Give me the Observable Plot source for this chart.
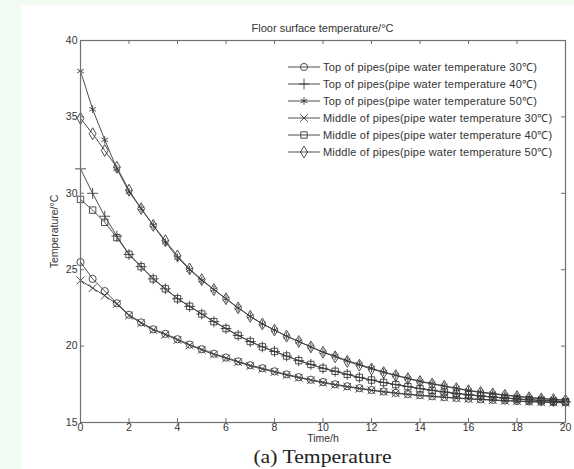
<!DOCTYPE html>
<html>
<head>
<meta charset="utf-8">
<script src="https://cdn.jsdelivr.net/npm/d3@7"></script>
<script src="https://cdn.jsdelivr.net/npm/@observablehq/plot@0.6"></script>
<style>
  html, body { margin: 0; padding: 0; }
  body { width: 574px; height: 469px; background: #f2fcf2; position: relative; overflow: hidden; font-family: "Liberation Sans", Arial, sans-serif; }
  #panel { position: absolute; left: 21px; top: 5px; width: 553px; height: 464px; background: #fff; }
  #chart { position: absolute; left: 0; top: 0; }
  #title { position: absolute; left: 59px; width: 485px; top: 17px; text-align: center; font-size: 11px; color: #333; }
  #caption { position: absolute; left: 59px; width: 485px; top: 441px; text-align: center; font-family: "Liberation Serif", "Times New Roman", serif; font-size: 19px; color: #222; transform: scaleX(1.14); }
  #legend { position: absolute; left: 262px; top: 52px; }
</style>
</head>
<body>
<div id="panel">
  <div id="chart"></div>
  <div id="title">Floor surface temperature/°C</div>
  <svg id="legend" width="290" height="110"></svg>
  <div id="caption">(a) Temperature</div>
</div>
<script>
// ---- data ----
const times = [0,0.5,1,1.5,2,2.5,3,3.5,4,4.5,5,5.5,6,6.5,7,7.5,8,8.5,9,9.5,10,10.5,11,11.5,12,12.5,13,13.5,14,14.5,15,15.5,16,16.5,17,17.5,18,18.5,19,19.5,20];

const seriesNames = [
  "Top of pipes(pipe water temperature 30℃)",
  "Top of pipes(pipe water temperature 40℃)",
  "Top of pipes(pipe water temperature 50℃)",
  "Middle of pipes(pipe water temperature 30℃)",
  "Middle of pipes(pipe water temperature 40℃)",
  "Middle of pipes(pipe water temperature 50℃)"
];
const seriesSymbols = ["circle", "plus", "asterisk", "times", "square", "diamond"];

const top30 = [25.5,24.4,23.6,22.8,22.05,21.55,21.1,20.8,20.45,20.1,19.8,19.5,19.25,19.0,18.75,18.55,18.35,18.15,17.97,17.8,17.65,17.5,17.37,17.25,17.13,17.03,16.94,16.86,16.79,16.72,16.66,16.61,16.56,16.52,16.48,16.44,16.41,16.38,16.35,16.33,16.31];
const top40 = [31.6,30.0,28.5,27.2,26.0,25.2,24.4,23.75,23.1,22.6,22.1,21.6,21.15,20.7,20.3,19.95,19.65,19.35,19.05,18.8,18.55,18.35,18.15,17.95,17.78,17.62,17.48,17.35,17.22,17.1,17.0,16.9,16.82,16.74,16.67,16.6,16.54,16.49,16.44,16.4,16.36];
const top50 = [38.0,35.5,33.5,31.6,30.1,29.0,27.9,26.8,25.8,25.0,24.3,23.7,23.1,22.5,21.95,21.45,21.05,20.65,20.3,19.95,19.6,19.35,19.05,18.8,18.55,18.3,18.1,17.9,17.7,17.55,17.4,17.25,17.1,17.0,16.9,16.8,16.72,16.65,16.58,16.52,16.47];
const mid30 = [24.3,23.8,23.3,22.75,22.0,21.5,21.05,20.75,20.4,20.05,19.75,19.45,19.2,18.95,18.7,18.5,18.3,18.1,17.93,17.76,17.6,17.46,17.33,17.21,17.1,17.0,16.91,16.83,16.76,16.7,16.64,16.59,16.54,16.5,16.46,16.42,16.39,16.36,16.33,16.31,16.29];
const mid40 = [29.6,28.9,28.1,27.1,26.0,25.2,24.4,23.75,23.1,22.6,22.1,21.6,21.15,20.7,20.3,19.95,19.65,19.35,19.05,18.8,18.55,18.35,18.15,17.95,17.78,17.62,17.48,17.35,17.22,17.1,17.0,16.9,16.82,16.74,16.67,16.6,16.54,16.49,16.44,16.4,16.36];
const mid50 = [34.9,33.9,32.8,31.7,30.2,29.0,27.9,26.9,25.9,25.05,24.35,23.7,23.1,22.5,21.95,21.45,21.05,20.65,20.3,19.95,19.6,19.3,19.0,18.75,18.5,18.27,18.07,17.87,17.68,17.52,17.37,17.22,17.08,16.97,16.87,16.78,16.7,16.62,16.55,16.5,16.45];

const seriesValues = [top30, top40, top50, mid30, mid40, mid50];

const xTicks = [0,2,4,6,8,10,12,14,16,18,20];
const yTicks = [15,20,25,30,35,40];

// ---- layout ----
const W = 553, H = 445;
const mL = 59, mR = 9, mT = 35, mB = 28;
const innerW = W - mL - mR, innerH = H - mT - mB;
const ink = "#3a3a3a";
const axisInk = "#707070";

const marks = [];
seriesValues.forEach((vals, i) => {
  const data = times.map((t, j) => ({t, v: vals[j], name: seriesNames[i]}));
  marks.push(Plot.line(data, {x: "t", y: "v", stroke: ink, strokeWidth: 0.9}));
  marks.push(Plot.dot(data, {x: "t", y: "v", symbol: seriesSymbols[i], r: 3.6, fill: "none", stroke: ink, strokeWidth: 0.9}));
});

const chart = Plot.plot({
  width: W, height: H,
  marginLeft: mL, marginRight: mR, marginTop: mT, marginBottom: mB,
  style: {fontFamily: "'Liberation Sans', Arial, sans-serif", fontSize: "10.5px", color: "#333", background: "transparent"},
  x: {domain: [0, 20]},
  y: {domain: [15, 40]},
  marks: [
    Plot.axisX(xTicks, {tickSize: 0, tickPadding: 1, label: "Time/h", labelAnchor: "center", labelArrow: "none", labelOffset: 19}),
    Plot.axisY(yTicks, {tickSize: 0, tickPadding: 3, label: "Temperature/°C", labelAnchor: "center", labelArrow: "none", labelOffset: 30}),
    Plot.tickX(xTicks, {x: d => d, insetTop: innerH - 4, stroke: axisInk}),
    Plot.tickX(xTicks, {x: d => d, insetBottom: innerH - 4, stroke: axisInk}),
    Plot.tickY(yTicks, {y: d => d, insetRight: innerW - 4, stroke: axisInk}),
    Plot.tickY(yTicks, {y: d => d, insetLeft: innerW - 4, stroke: axisInk}),
    ...marks,
    Plot.frame({stroke: axisInk, strokeWidth: 1.2})
  ]
});
document.getElementById("chart").appendChild(chart);

// ---- legend (overlay) ----
const leg = d3.select("#legend");
const symMap = {circle: d3.symbolCircle, plus: d3.symbolPlus, asterisk: d3.symbolAsterisk, times: d3.symbolTimes, square: d3.symbolSquare, diamond: d3.symbolDiamond};
const rowH = 17, y0 = 10;
seriesNames.forEach((name, i) => {
  const g = leg.append("g").attr("transform", `translate(0,${y0 + i * rowH})`);
  g.append("line").attr("x1", 5).attr("x2", 37).attr("y1", 0).attr("y2", 0).attr("stroke", ink).attr("stroke-width", 0.9);
  g.append("path").attr("transform", "translate(21,0)")
    .attr("d", d3.symbol(symMap[seriesSymbols[i]], Math.PI * 3.6 * 3.6)())
    .attr("fill", "none").attr("stroke", ink).attr("stroke-width", 0.9);
  g.append("text").attr("x", 40).attr("y", 0).attr("dy", "0.35em")
    .attr("font-size", "11px").attr("letter-spacing", "0.2px").attr("font-family", "'Liberation Sans', Arial, sans-serif")
    .attr("fill", "#333").text(name);
});
</script>
</body>
</html>
